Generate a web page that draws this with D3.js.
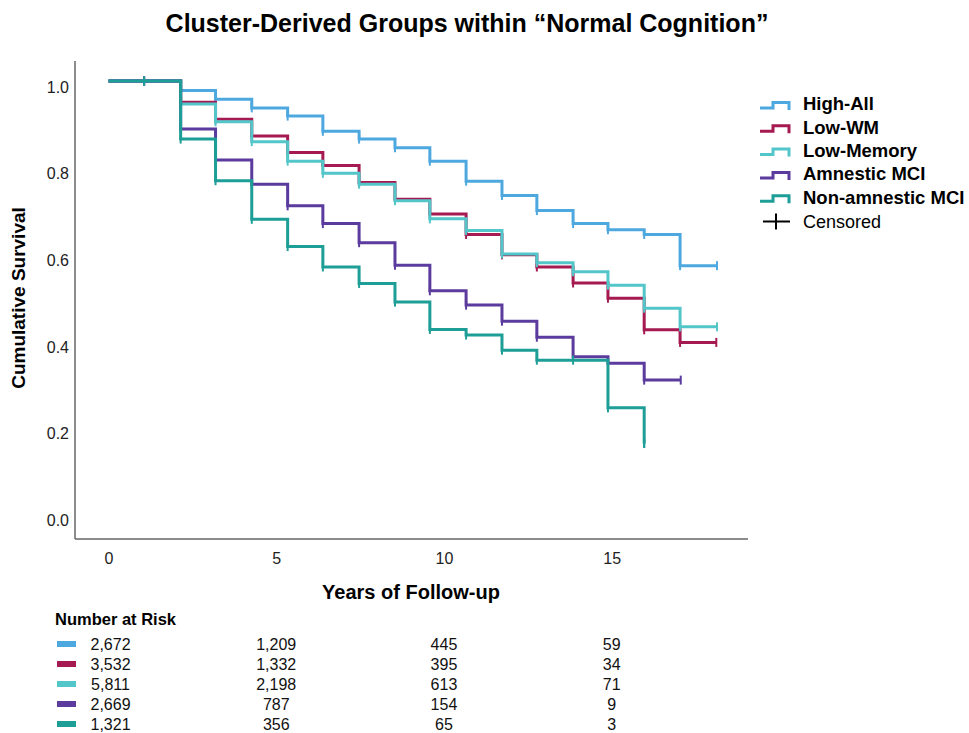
<!DOCTYPE html>
<html>
<head>
<meta charset="utf-8">
<script src="https://cdn.jsdelivr.net/npm/d3@7"></script>
<style>
  body { margin: 0; background: #fff; }
  svg { font-family: "Liberation Sans", Arial, sans-serif; }
</style>
</head>
<body>
<div id="vis"></div>
<script>
// Step times (years) where the curves drop
var stepTimes = [0, 2.15, 3.19, 4.27, 5.34, 6.39, 7.47, 8.54, 9.58, 10.66, 11.73, 12.77, 13.85, 14.89, 15.97, 17.04];

// Survival level after each step
var highAll     = [1.0, 0.978, 0.958, 0.938, 0.919, 0.884, 0.866, 0.846, 0.815, 0.769, 0.736, 0.701, 0.671, 0.657, 0.646, 0.574];
var lowWM       = [1.0, 0.951, 0.912, 0.873, 0.835, 0.805, 0.766, 0.727, 0.693, 0.646, 0.599, 0.571, 0.534, 0.499, 0.426, 0.397];
var lowMemory   = [1.0, 0.947, 0.906, 0.860, 0.815, 0.787, 0.762, 0.724, 0.682, 0.655, 0.601, 0.581, 0.560, 0.529, 0.476, 0.433];
var amnestic    = [1.0, 0.889, 0.818, 0.762, 0.712, 0.671, 0.627, 0.575, 0.516, 0.483, 0.446, 0.409, 0.364, 0.349, 0.310];
var nonAmnestic = [1.0, 0.866, 0.770, 0.681, 0.618, 0.571, 0.533, 0.490, 0.427, 0.414, 0.379, 0.356, 0.356, 0.246, 0.164];

// last follow-up time of each group
var endTimes = [18.14, 18.12, 18.14, 17.06, 15.97];
var firstCensor = 1.06;

var groupNames = ["High-All", "Low-WM", "Low-Memory", "Amnestic MCI", "Non-amnestic MCI"];
var groupColors = ["#4ea8e0", "#a51a50", "#52c6c9", "#5b3b9d", "#1d9e96"];

// Number at risk table
var riskTimes = [0, 5, 10, 15];
var riskHighAll = [2672, 1209, 445, 59];
var riskLowWM = [3532, 1332, 395, 34];
var riskLowMemory = [5811, 2198, 613, 71];
var riskAmnestic = [2669, 787, 154, 9];
var riskNonAmnestic = [1321, 356, 65, 3];

var yTicks = [0, 0.2, 0.4, 0.6, 0.8, 1.0];
var xTicks = [0, 5, 10, 15];

var width = 969, height = 733;
var svg = d3.select("#vis").append("svg").attr("width", width).attr("height", height);

var xScale = d3.scaleLinear().domain([-1, 19.08]).range([75, 748.5]);
var yScale = d3.scaleLinear().domain([0, 1]).range([514.5, 81]);

// Title
svg.append("text").attr("x", 467).attr("y", 32).attr("text-anchor", "middle")
    .style("font-size", "25px").style("font-weight", "bold")
    .text("Cluster-Derived Groups within \u201cNormal Cognition\u201d");

// Axes
var yAxis = d3.axisLeft(yScale).tickValues(yTicks).tickSize(0).tickPadding(6).tickFormat(d3.format(".1f"));
var gy = svg.append("g").attr("transform", "translate(75,0)").call(yAxis)
    .attr("font-family", null).attr("font-size", null);
gy.select(".domain").remove();
gy.selectAll(".tick text").attr("dy", "0.32em").attr("transform", "translate(0,6)")
    .style("font-size", "16px").style("fill", "#222");

var xAxis = d3.axisBottom(xScale).tickValues(xTicks).tickSize(0).tickPadding(14);
var gx = svg.append("g").attr("transform", "translate(0,539)").call(xAxis)
    .attr("font-family", null).attr("font-size", null);
gx.select(".domain").remove();
gx.selectAll(".tick text").style("font-size", "16px").style("fill", "#222");

svg.append("line").attr("x1", 75).attr("x2", 75).attr("y1", 61).attr("y2", 539)
    .attr("stroke", "#666").attr("stroke-width", 1.5);
svg.append("line").attr("x1", 75).attr("x2", 748).attr("y1", 539).attr("y2", 539)
    .attr("stroke", "#666").attr("stroke-width", 1.5);

svg.append("text").attr("transform", "translate(25,298) rotate(-90)").attr("text-anchor", "middle")
    .style("font-size", "19px").style("font-weight", "bold").text("Cumulative Survival");
svg.append("text").attr("x", 411).attr("y", 599).attr("text-anchor", "middle")
    .style("font-size", "20px").style("font-weight", "bold").text("Years of Follow-up");

// Curves
var series = [highAll, lowWM, lowMemory, amnestic, nonAmnestic];
var line = d3.line().curve(d3.curveStepAfter)
    .x(function(d) { return xScale(d[0]); })
    .y(function(d) { return yScale(d[1]); });

series.forEach(function(vals, i) {
    var pts = vals.map(function(v, j) { return [stepTimes[j], v]; });
    pts.push([endTimes[i], vals[vals.length - 1]]);
    svg.append("path").datum(pts).attr("d", line)
        .attr("fill", "none").attr("stroke", groupColors[i]).attr("stroke-width", 3);

    // censor marks
    var cens = [[firstCensor, 1.0]];
    vals.forEach(function(v, j) { if (j > 0) cens.push([stepTimes[j], v]); });
    cens.push([endTimes[i], vals[vals.length - 1]]);
    svg.append("g").selectAll("line").data(cens).enter().append("line")
        .attr("x1", function(d) { return xScale(d[0]); })
        .attr("x2", function(d) { return xScale(d[0]); })
        .attr("y1", function(d) { return yScale(d[1]) - 4.5; })
        .attr("y2", function(d) { return yScale(d[1]) + 4.5; })
        .attr("stroke", groupColors[i]).attr("stroke-width", 2);
});

// Legend
var legend = svg.append("g").attr("transform", "translate(760,0)");
groupNames.forEach(function(name, i) {
    var cy = 104 + i * 23.3;
    legend.append("path")
        .attr("d", "M0," + (cy + 4) + " H13 V" + (cy - 1.5) + " H29 V" + (cy + 6))
        .attr("fill", "none").attr("stroke", groupColors[i]).attr("stroke-width", 3);
    legend.append("text").attr("x", 43).attr("y", cy).attr("dy", "0.35em")
        .style("font-size", "18.5px").style("font-weight", "bold").text(name);
});
var cyC = 221.5;
legend.append("line").attr("x1", 3).attr("x2", 30).attr("y1", cyC).attr("y2", cyC).attr("stroke", "#000").attr("stroke-width", 2);
legend.append("line").attr("x1", 16).attr("x2", 16).attr("y1", cyC - 8).attr("y2", cyC + 8).attr("stroke", "#000").attr("stroke-width", 2);
legend.append("text").attr("x", 43).attr("y", cyC).attr("dy", "0.35em")
    .style("font-size", "18px").text("Censored");

// Number at risk
svg.append("text").attr("x", 55).attr("y", 625).style("font-size", "16.5px").style("font-weight", "bold")
    .text("Number at Risk");
var riskRows = [riskHighAll, riskLowWM, riskLowMemory, riskAmnestic, riskNonAmnestic];
var fmt = d3.format(",");
riskRows.forEach(function(row, i) {
    var cy = 644 + i * 20;
    svg.append("rect").attr("x", 57).attr("y", cy - 3).attr("width", 19).attr("height", 6)
        .attr("fill", groupColors[i]);
    svg.append("g").selectAll("text").data(row).enter().append("text")
        .attr("x", function(d, j) { return xScale(riskTimes[j]) + (j === 0 ? 2 : 0); })
        .attr("y", cy).attr("dy", "0.35em").attr("text-anchor", "middle")
        .style("font-size", "16px").style("fill", "#111")
        .text(function(d) { return fmt(d); });
});
</script>
</body>
</html>
